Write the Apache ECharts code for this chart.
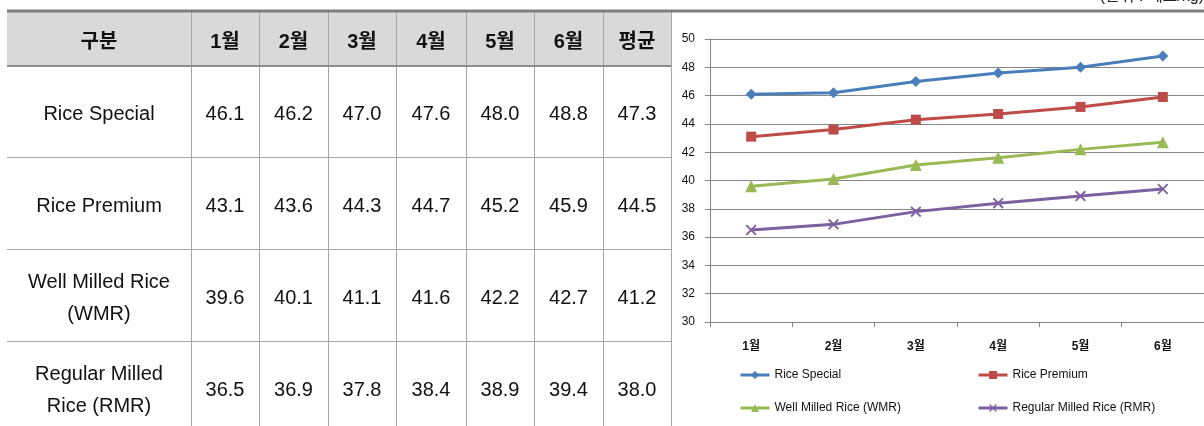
<!DOCTYPE html>
<html><head><meta charset="utf-8">
<script src="https://cdn.jsdelivr.net/npm/echarts@6/dist/echarts.min.js"></script>
<style>html,body{margin:0;padding:0;background:#fff}#c{width:1204px;height:426px}</style>
</head><body><div id="c"></div>
<script>
// ---- data ----
const months = ['1월','2월','3월','4월','5월','6월'];
const headerLabels = ['구분','1월','2월','3월','4월','5월','6월','평균'];
const seriesNames = ['Rice Special','Rice Premium','Well Milled Rice (WMR)','Regular Milled Rice (RMR)'];
const rowLabels = ['Rice Special','Rice Premium','Well Milled Rice\n(WMR)','Regular Milled\nRice (RMR)'];
const riceSpecial = [46.1, 46.2, 47.0, 47.6, 48.0, 48.8];
const ricePremium = [43.1, 43.6, 44.3, 44.7, 45.2, 45.9];
const wellMilled = [39.6, 40.1, 41.1, 41.6, 42.2, 42.7];
const regularMilled = [36.5, 36.9, 37.8, 38.4, 38.9, 39.4];
const averages = [47.3, 44.5, 41.2, 38.0];
const yTicks = {min: 30, max: 50, interval: 2};
const unitText = '(단위 : 페소/kg)';

// ---- layout ----
const colX = [7,191,259,328,396,466,534,603,671];
const rowY = [12,66,157,249,341,433];
const tableFont = '"Liberation Sans","Noto Sans CJK KR",sans-serif';
const chartFont = '"Liberation Sans","Noto Sans CJK KR",sans-serif';
const colors = ['#4A7EBB','#BE4B48','#98B954','#7D60A0'];
const xPath = 'path://M0,1.2L1.2,0L5,3.8L8.8,0L10,1.2L6.2,5L10,8.8L8.8,10L5,6.2L1.2,10L0,8.8L3.8,5Z';
const symbols = ['diamond','rect','triangle', xPath];
const symbolSizes = [11,10,12,11];
const allSeries = [riceSpecial, ricePremium, wellMilled, regularMilled];

const g = [];
g.push({type:'rect', shape:{x:colX[0], y:rowY[0], width:colX[8]-colX[0], height:rowY[1]-rowY[0]}, style:{fill:'#d9d9d9'}, silent:true});
for (let i=1;i<colX.length;i++) {
  g.push({type:'line', shape:{x1:colX[i]+0.5,y1:rowY[0],x2:colX[i]+0.5,y2:426}, style:{stroke:'#a6a6a6',lineWidth:1}, silent:true});
}
for (let r=2;r<5;r++) {
  g.push({type:'line', shape:{x1:colX[0],y1:rowY[r]+0.5,x2:colX[8],y2:rowY[r]+0.5}, style:{stroke:'#a6a6a6',lineWidth:1}, silent:true});
}
g.push({type:'line', shape:{x1:colX[0],y1:rowY[1],x2:colX[8],y2:rowY[1]}, style:{stroke:'#8c8c8c',lineWidth:2}, silent:true});
g.push({type:'line', shape:{x1:colX[0],y1:11,x2:1204,y2:11}, style:{stroke:'#7f7f7f',lineWidth:3}, silent:true});
// header
headerLabels.forEach((t,i)=>{
  g.push({type:'text', x:(colX[i]+colX[i+1])/2, y:(rowY[0]+rowY[1])/2+3, style:{text:t, font:'bold 20px '+tableFont, fill:'#111', align:'center', verticalAlign:'middle'}, silent:true});
});
// body
rowLabels.forEach((t,r)=>{
  const cy = (rowY[r+1]+rowY[r+2])/2 + 3;
  g.push({type:'text', x:(colX[0]+colX[1])/2, y:cy, style:{text:t, font:'20px '+tableFont, fill:'#111', align:'center', verticalAlign:'middle', lineHeight:32}, silent:true});
  const vals = allSeries[r].concat([averages[r]]);
  vals.forEach((v,c)=>{
    g.push({type:'text', x:(colX[c+1]+colX[c+2])/2, y:cy, style:{text:v.toFixed(1), font:'20px '+tableFont, fill:'#111', align:'center', verticalAlign:'middle'}, silent:true});
  });
});
g.push({type:'text', x:1204, y:-11, style:{text:unitText, font:'16px '+tableFont, fill:'#222', align:'right', verticalAlign:'top'}, silent:true});

const legendBase = {orient:'vertical', top:364, itemWidth:29, itemHeight:10, itemGap:21,
  lineStyle:{width:3}, textStyle:{fontSize:12, color:'#111', fontFamily:chartFont}};

const chart = echarts.init(document.getElementById('c'));
chart.setOption({
  animation:false,
  backgroundColor:'#fff',
  graphic:g,
  grid:{left:710, right:0, top:39, bottom:104, containLabel:false},
  xAxis:{type:'category', data:months, boundaryGap:true,
    axisLine:{lineStyle:{color:'#868686'}},
    axisTick:{show:true, length:5, interval:0, lineStyle:{color:'#868686'}},
    axisLabel:{margin:19, fontSize:12, fontWeight:'bold', color:'#111', fontFamily:chartFont}},
  yAxis:{type:'value', min:yTicks.min, max:yTicks.max, interval:yTicks.interval,
    axisLine:{show:true, lineStyle:{color:'#868686'}},
    axisTick:{show:true, length:5, lineStyle:{color:'#868686'}},
    splitLine:{lineStyle:{color:'#868686'}},
    axisLabel:{margin:15, fontSize:12, color:'#111', fontFamily:chartFont}},
  legend:[
    Object.assign({data:[seriesNames[0],seriesNames[2]], left:734}, legendBase),
    Object.assign({data:[seriesNames[1],seriesNames[3]], left:972}, legendBase)
  ],
  series: allSeries.map((d,i)=>({
    name:seriesNames[i], type:'line', data:d, symbol:symbols[i], symbolSize:symbolSizes[i],
    showAllSymbol:true,
    lineStyle:{width:3, color:colors[i]}, itemStyle:{color:colors[i]}
  }))
});
</script></body></html>
